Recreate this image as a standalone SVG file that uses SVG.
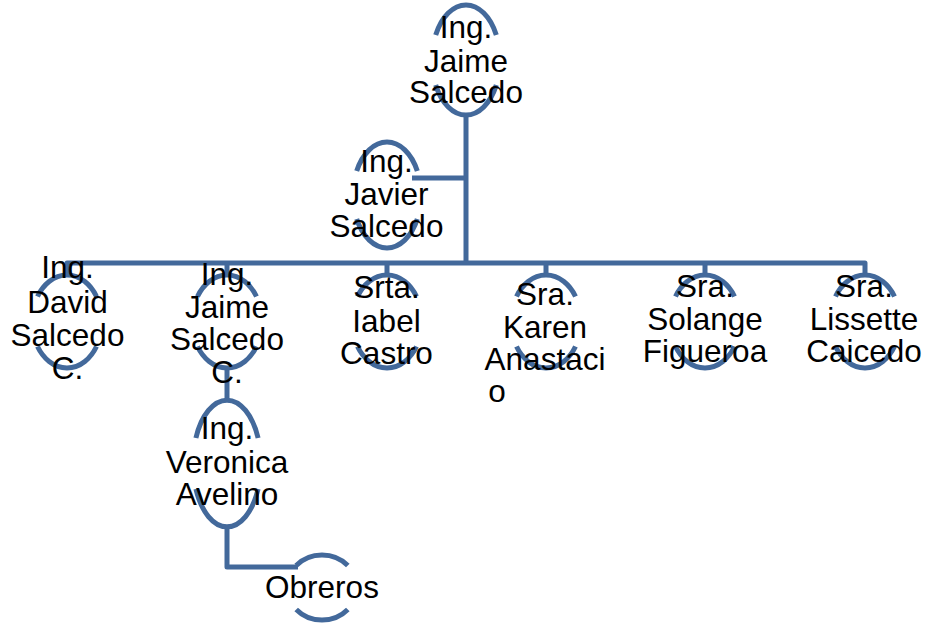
<svg xmlns="http://www.w3.org/2000/svg" width="926" height="623" viewBox="0 0 926 623">
<style>
.arc{fill:none;stroke:#43699B;stroke-width:5}
.con{fill:none;stroke:#43699B;stroke-width:5;stroke-linejoin:round}
text{font-family:"Liberation Sans",Arial,sans-serif;font-size:31.5px;fill:#000;text-anchor:middle}
</style>
<rect width="926" height="623" fill="#fff"/>
<g id="connectors">
<path class="con" d="M466 115 V263"/>
<path class="con" d="M412 178 H466"/>
<path class="con" d="M67 276 V263 H865 V276"/>
<path class="con" d="M227 263 V276 M387 263 V276 M546 263 V276 M705 263 V276"/>
<path class="con" d="M227 367 V401"/>
<path class="con" d="M227 526 V567 H298"/>
</g>
<g id="n-jaime">
<path class="arc" d="M435.7 35 A34 55 0 0 1 496.3 35 M435.7 85 A34 55 0 0 0 496.3 85"/>
<text x="466" y="38">Ing.</text><text x="466" y="71.5">Jaime</text><text x="466" y="103">Salcedo</text>
</g>
<g id="n-javier">
<path class="arc" d="M356.7 171 A34 53 0 0 1 417.3 171 M356.7 219 A34 53 0 0 0 417.3 219"/>
<text x="386.5" y="172">Ing.</text><text x="386.5" y="205">Javier</text><text x="386.5" y="237">Salcedo</text>
</g>
<g id="n-david">
<path class="arc" d="M37.5 296.5 A35 46.5 0 0 1 96.5 296.5 M37.5 346.5 A35 46.5 0 0 0 96.5 346.5"/>
<text x="67.5" y="278">Ing.</text><text x="67.5" y="313">David</text><text x="67.5" y="346">Salcedo</text><text x="67.5" y="379">C.</text>
</g>
<g id="n-jaimec">
<path class="arc" d="M197.5 296.5 A35 46.5 0 0 1 256.5 296.5 M197.5 346.5 A35 46.5 0 0 0 256.5 346.5"/>
<text x="227" y="285">Ing.</text><text x="227" y="318">Jaime</text><text x="227" y="350">Salcedo</text><text x="227" y="383">C.</text>
</g>
<g id="n-iabel">
<path class="arc" d="M357.5 296.5 A35 46.5 0 0 1 416.5 296.5 M357.5 346.5 A35 46.5 0 0 0 416.5 346.5"/>
<text x="386.5" y="298">Srta.</text><text x="386.5" y="332">Iabel</text><text x="386.5" y="364">Castro</text>
</g>
<g id="n-karen">
<path class="arc" d="M516.5 296.5 A35 46.5 0 0 1 575.5 296.5 M516.5 346.5 A35 46.5 0 0 0 575.5 346.5"/>
<text x="545" y="305">Sra.</text><text x="545" y="338">Karen</text><text x="545" y="370">Anastaci</text><text x="497" y="402">o</text>
</g>
<g id="n-solange">
<path class="arc" d="M675.5 296.5 A35 46.5 0 0 1 734.5 296.5 M675.5 346.5 A35 46.5 0 0 0 734.5 346.5"/>
<text x="705" y="297">Sra.</text><text x="705" y="330">Solange</text><text x="705" y="362">Figueroa</text>
</g>
<g id="n-lissette">
<path class="arc" d="M835.5 296.5 A35 46.5 0 0 1 894.5 296.5 M835.5 346.5 A35 46.5 0 0 0 894.5 346.5"/>
<text x="864" y="297">Sra.</text><text x="864" y="330">Lissette</text><text x="864" y="362">Caicedo</text>
</g>
<g id="n-veronica">
<path class="arc" d="M195.9 438 A34 63.5 0 0 1 258.1 438 M195.9 489 A34 63.5 0 0 0 258.1 489"/>
<text x="227" y="439">Ing.</text><text x="227" y="473">Veronica</text><text x="227" y="505">Avelino</text>
</g>
<g id="n-obreros">
<path class="arc" d="M296.2 565.5 A35 32.5 0 0 1 347.8 565.5 M296.2 609.5 A35 32.5 0 0 0 347.8 609.5"/>
<text x="322" y="598">Obreros</text>
</g>
</svg>
